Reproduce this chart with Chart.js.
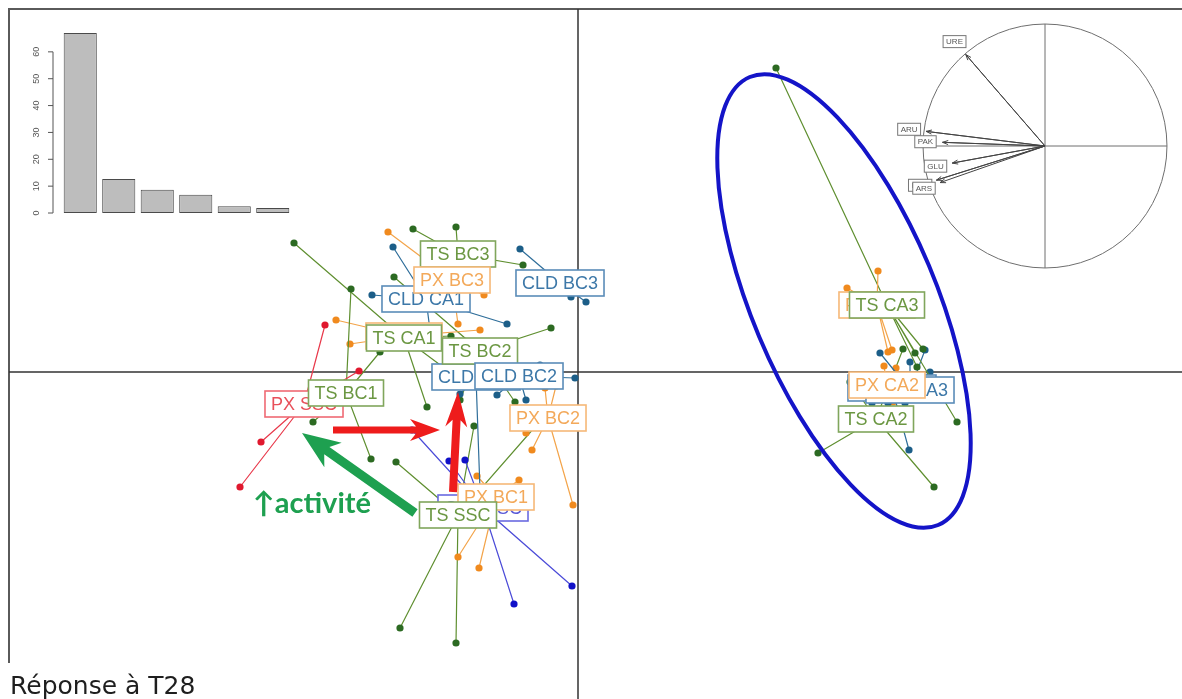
<!DOCTYPE html>
<html>
<head>
<meta charset="utf-8">
<script src="https://cdn.jsdelivr.net/npm/chart.js@4.4.1/dist/chart.umd.min.js"></script>
<style>
body{margin:0;background:#fff}
#wrap{position:relative;width:1182px;height:699px;overflow:hidden;background:#fff}
canvas{position:absolute}
</style>
</head>
<body>
<div id="wrap">
<canvas id="mainChart" width="1182" height="699" style="left:0;top:0"></canvas>
<canvas id="eigChart" width="300" height="230" style="left:0;top:0"></canvas>
<canvas id="circleChart" width="312" height="252" style="left:889px;top:20px"></canvas>
</div>
<script>
'use strict'
// groups (label order = drawing order)
let groupNames=['PX SSC','TS BC1','PX CA1','TS CA1','CLD CA1','TS BC3','PX BC3','CLD BC3','CLD BC1','TS BC2','CLD BC2','PX BC2','CLD SSC','PX BC1','TS SSC','PX CA3','TS CA3','CLD CA2','CLD CA3','PX CA2','TS CA2']
// group centres (F1, F2)
let centerX=[-2.74,-2.32,-1.74,-1.74,-1.52,-1.20,-1.26,-0.18,-1.02,-0.98,-0.59,-0.30,-0.95,-0.82,-1.20,2.99,3.09,3.14,3.32,3.09,2.98]
let centerY=[-0.32,-0.21,0.36,0.34,0.73,1.18,0.92,0.89,-0.05,0.21,-0.04,-0.46,-1.36,-1.25,-1.43,0.67,0.67,-0.16,-0.18,-0.13,-0.47]
// individuals of each group
let pointsX=[
 [-2.53,-2.19,-3.17,-3.38],
 [-2.27,-1.98,-2.65,-2.07],
 [-2.42,-2.28,-1.08,-0.98],
 [-2.84,-1.51,-1.27,-1.31],
 [-2.06,-1.85,-0.71,-1.48],
 [-1.22,-1.65,-0.55,-1.38],
 [-1.90,-0.94,-1.20,-1.00],
 [-0.58,-0.07,0.08],
 [-1.18,-0.98,-0.90,-1.08],
 [-0.27,-1.84,-0.63,-1.18],
 [-0.03,-0.81,-0.52,-0.38],
 [-0.05,-0.46,-0.33,-0.22,-0.52],
 [-0.64,-0.06,-1.29,-1.13,-1.66],
 [-1.20,-0.99,-1.01,-0.59],
 [-1.78,-1.22,-1.04,-1.82,-0.30],
 [3.00,2.69,3.14,3.10],
 [1.98,3.79,3.45,3.37,3.39],
 [3.31,2.94,3.10,3.27],
 [3.02,3.32,3.52,3.47],
 [3.06,3.18,3.00,3.15],
 [2.40,3.56,3.25,2.72]
]
let pointsY=[
 [0.47,0.01,-0.70,-1.15],
 [0.83,0.20,-0.50,-0.87],
 [0.52,0.28,0.27,0.42],
 [1.29,-0.35,0.36,0.02],
 [0.77,1.25,0.48,0.42],
 [1.45,1.43,1.07,0.77],
 [1.40,0.77,0.48,1.03],
 [1.23,0.75,0.70],
 [-0.22,-1.18,0.15,0.07],
 [0.44,0.95,-0.30,-0.28],
 [-0.06,-0.23,-0.28,0.07],
 [-1.33,-0.78,-0.16,-0.14,-0.61],
 [-2.32,-2.14,-0.89,-0.88,-0.58],
 [-1.85,-1.96,-1.04,-1.08],
 [-2.56,-2.71,-0.54,-0.90,-0.40],
 [1.01,0.84,0.22,0.20],
 [3.04,-0.50,0.23,0.19,0.05],
 [-0.78,-0.31,-0.31,-0.31],
 [0.19,0.10,0.00,0.22],
 [0.06,0.04,-0.28,-0.30],
 [-0.81,-1.15,0.23,-0.10]
]
// ellipse of the CA group
let ellipseCenter=[2.66,0.71]
let ellipseAxes=[2.43,0.92]
let ellipseAngle=-67.2

// eigenvalues (%)
let eigLabels=['1','2','3','4','5','6']
let eigValues=[67,12.7,8.7,6.8,2.5,1.9]
let eigTicks=[0,10,20,30,40,50,60]

// correlation circle
let varNames=['URE','ARU','PAK','GLU','PHO','ARS']
let varX=[-0.65,-0.975,-0.84,-0.76,-0.89,-0.86]
let varY=[0.75,0.12,0.03,-0.14,-0.28,-0.30]

let styles={
 red:{line:'#e8384a',point:'#e0182e',text:'#e8505a',box:'#ef6a74'},
 blue:{line:'#4b4bd8',point:'#1010c8',text:'#5a5ad8',box:'#6a6ae0'},
 TS:{line:'#5f8f30',point:'#2c6a22',text:'#6b9742',box:'#80a65c'},
 PX:{line:'#f3a44a',point:'#f08a1e',text:'#f3a95a',box:'#f6b878'},
 CLD:{line:'#2f6e9a',point:'#1c5e88',text:'#3d78a8',box:'#5a8cb8'}
}
function familyOf(name){
 if(name=='PX SSC') return 'red'
 if(name=='CLD SSC') return 'blue'
 return name.split(' ')[0]
}

let frameCorner=[-5.69,3.63]
let notes=[
 {from:[-2.45,-0.58],to:[-1.38,-0.58],color:'#ee1c1c',width:7,head:30,half:11},
 {from:[-1.25,-1.20],to:[-1.20,-0.20],color:'#ee1c1c',width:8,head:35,half:11},
 {from:[-1.63,-1.41],to:[-2.76,-0.61],color:'#1ea050',width:9,head:38,half:15}
]
let noteText={text:'↑activité',x:-3.25,y:-1.41,color:'#1ea050'}

function drawArrow(ctx,x0,y0,x1,y1,w,L,h){
 let dx=x1-x0, dy=y1-y0, len=Math.hypot(dx,dy)
 let ux=dx/len, uy=dy/len, nx=-uy, ny=ux
 let bx=x1-ux*L*0.8, by=y1-uy*L*0.8
 let wx=x1-ux*L, wy=y1-uy*L
 ctx.beginPath()
 ctx.moveTo(x0+nx*w/2,y0+ny*w/2)
 ctx.lineTo(bx+nx*w/2,by+ny*w/2)
 ctx.lineTo(wx+nx*h,wy+ny*h)
 ctx.lineTo(x1,y1)
 ctx.lineTo(wx-nx*h,wy-ny*h)
 ctx.lineTo(bx-nx*w/2,by-ny*w/2)
 ctx.lineTo(x0-nx*w/2,y0-ny*w/2)
 ctx.closePath()
 ctx.fill()
}

function drawLabel(ctx,text,px,py,st){
 ctx.font='18px "Liberation Sans", Arial, sans-serif'
 let w=ctx.measureText(text).width+12, h=26
 ctx.fillStyle='#fff'
 ctx.fillRect(px-w/2,py-h/2,w,h)
 ctx.strokeStyle=st.box
 ctx.lineWidth=1.6
 ctx.strokeRect(px-w/2,py-h/2,w,h)
 ctx.fillStyle=st.text
 ctx.textAlign='center'
 ctx.textBaseline='middle'
 ctx.fillText(text,px,py+1)
}

let mainPlugin={
 id:'mainDeco',
 beforeDatasetsDraw(chart){
  let {ctx,scales:{x,y}}=chart
  ctx.save()
  ctx.strokeStyle='#5a5a5a'
  ctx.lineWidth=2
  ctx.strokeRect(x.getPixelForValue(frameCorner[0]),y.getPixelForValue(frameCorner[1]),1400,900)
  ctx.strokeStyle='#333'
  ctx.lineWidth=1.5
  ctx.beginPath()
  ctx.moveTo(x.getPixelForValue(frameCorner[0]),y.getPixelForValue(0))
  ctx.lineTo(x.right,y.getPixelForValue(0))
  ctx.moveTo(x.getPixelForValue(0),y.getPixelForValue(frameCorner[1]))
  ctx.lineTo(x.getPixelForValue(0),y.bottom)
  ctx.stroke()
  ctx.restore()
 },
 afterDatasetsDraw(chart){
  let {ctx,scales:{x,y}}=chart
  ctx.save()
  // ellipse
  let ex=x.getPixelForValue(ellipseCenter[0]), ey=y.getPixelForValue(ellipseCenter[1])
  let ra=x.getPixelForValue(ellipseAxes[0])-x.getPixelForValue(0)
  let rb=x.getPixelForValue(ellipseAxes[1])-x.getPixelForValue(0)
  ctx.strokeStyle='#1414c8'
  ctx.lineWidth=4
  ctx.beginPath()
  ctx.ellipse(ex,ey,ra,rb,-ellipseAngle*Math.PI/180,0,2*Math.PI)
  ctx.stroke()
  // group labels
  for(let g=0;g<groupNames.length;g++){
   drawLabel(ctx,groupNames[g],x.getPixelForValue(centerX[g]),y.getPixelForValue(centerY[g]),styles[familyOf(groupNames[g])])
  }
  // annotations
  notes.forEach(n=>{
   ctx.fillStyle=n.color
   drawArrow(ctx,x.getPixelForValue(n.from[0]),y.getPixelForValue(n.from[1]),x.getPixelForValue(n.to[0]),y.getPixelForValue(n.to[1]),n.width,n.head,n.half)
  })
  ctx.fillStyle=noteText.color
  ctx.font='bold 29px Lato, "Open Sans", sans-serif'
  ctx.textAlign='left'
  ctx.textBaseline='alphabetic'
  ctx.fillText(noteText.text,x.getPixelForValue(noteText.x),y.getPixelForValue(noteText.y))
  // subtitle
  ctx.fillStyle='#fff'
  ctx.fillRect(0,663,210,40)
  ctx.fillStyle='#1e1e1e'
  ctx.font='25px "DejaVu Sans", sans-serif'
  ctx.fillText('Réponse à T28',10,694)
  ctx.restore()
 }
}

let starSets=groupNames.map((name,g)=>{
 let st=styles[familyOf(name)]
 let pts=[]
 for(let i=0;i<pointsX[g].length;i++){
  pts.push({x:centerX[g],y:centerY[g]})
  pts.push({x:pointsX[g][i],y:pointsY[g][i]})
 }
 return {
  data:pts,
  showLine:true,
  borderColor:st.line,
  borderWidth:1.2,
  pointRadius:c=>c.dataIndex%2?3.6:0,
  pointBackgroundColor:st.point,
  pointBorderWidth:0
 }
})

new Chart(document.getElementById('mainChart'),{
 type:'scatter',
 data:{datasets:starSets},
 options:{
  responsive:false,
  animation:false,
  events:[],
  layout:{padding:0,autoPadding:false},
  plugins:{legend:{display:false},tooltip:{enabled:false}},
  scales:{
   x:{type:'linear',min:-5.78,max:6.04,display:false},
   y:{type:'linear',min:-3.27,max:3.72,display:false}
  }
 },
 plugins:[mainPlugin]
})

// eigenvalue barplot
let eigAxis={
 id:'eigAxis',
 afterDatasetsDraw(chart){
  let {ctx,scales:{y}}=chart
  let ax=53
  ctx.save()
  ctx.strokeStyle='#555'
  ctx.lineWidth=1
  ctx.beginPath()
  ctx.moveTo(ax,y.getPixelForValue(eigTicks[0]))
  ctx.lineTo(ax,y.getPixelForValue(eigTicks[eigTicks.length-1]))
  eigTicks.forEach(t=>{
   ctx.moveTo(ax,y.getPixelForValue(t))
   ctx.lineTo(ax-5,y.getPixelForValue(t))
  })
  ctx.stroke()
  ctx.fillStyle='#555'
  ctx.font='9px "Liberation Sans", Arial, sans-serif'
  ctx.textAlign='center'
  ctx.textBaseline='middle'
  eigTicks.forEach(t=>{
   ctx.save()
   ctx.translate(37,y.getPixelForValue(t))
   ctx.rotate(-Math.PI/2)
   ctx.fillText(String(t),0,0)
   ctx.restore()
  })
  ctx.restore()
 }
}
new Chart(document.getElementById('eigChart'),{
 type:'bar',
 data:{labels:eigLabels,datasets:[{data:eigValues,backgroundColor:'#bdbdbd',borderColor:'#4a4a4a',borderWidth:1,borderSkipped:false,barPercentage:0.86,categoryPercentage:1}]},
 options:{
  responsive:false,
  animation:false,
  events:[],
  layout:{padding:{left:61,right:8,top:25,bottom:17},autoPadding:false},
  plugins:{legend:{display:false},tooltip:{enabled:false}},
  scales:{x:{display:false},y:{display:false,min:0,max:70}}
 },
 plugins:[eigAxis]
})

// correlation circle
let circleDeco={
 id:'circleDeco',
 beforeDatasetsDraw(chart){
  let {ctx,scales:{x,y}}=chart
  let cx=x.getPixelForValue(0), cy=y.getPixelForValue(0), r=x.getPixelForValue(1)-cx
  ctx.save()
  ctx.strokeStyle='#6e6e6e'
  ctx.lineWidth=1
  ctx.beginPath()
  ctx.arc(cx,cy,r,0,2*Math.PI)
  ctx.moveTo(cx-r,cy)
  ctx.lineTo(cx+r,cy)
  ctx.moveTo(cx,cy-r)
  ctx.lineTo(cx,cy+r)
  ctx.stroke()
  ctx.restore()
 },
 afterDatasetsDraw(chart){
  let {ctx,scales:{x,y}}=chart
  ctx.save()
  ctx.strokeStyle='#444'
  ctx.lineWidth=1
  for(let i=0;i<varNames.length;i++){
   let x0=x.getPixelForValue(0), y0=y.getPixelForValue(0)
   let x1=x.getPixelForValue(varX[i]), y1=y.getPixelForValue(varY[i])
   let a=Math.atan2(y1-y0,x1-x0)
   ctx.beginPath()
   ctx.moveTo(x1-6*Math.cos(a-0.35),y1-6*Math.sin(a-0.35))
   ctx.lineTo(x1,y1)
   ctx.lineTo(x1-6*Math.cos(a+0.35),y1-6*Math.sin(a+0.35))
   ctx.stroke()
  }
  ctx.font='8px "Liberation Sans", Arial, sans-serif'
  ctx.textAlign='center'
  ctx.textBaseline='middle'
  for(let i=0;i<varNames.length;i++){
   let len=Math.hypot(varX[i],varY[i])
   let k=1+0.14/len
   let lx=x.getPixelForValue(varX[i]*k), ly=y.getPixelForValue(varY[i]*k)
   let w=ctx.measureText(varNames[i]).width+6
   ctx.fillStyle='#fff'
   ctx.fillRect(lx-w/2,ly-6,w,12)
   ctx.strokeStyle='#777'
   ctx.strokeRect(lx-w/2,ly-6,w,12)
   ctx.fillStyle='#555'
   ctx.fillText(varNames[i],lx,ly+0.5)
  }
  ctx.restore()
 }
}
let arrowPts=[]
for(let i=0;i<varNames.length;i++){
 arrowPts.push({x:0,y:0})
 arrowPts.push({x:varX[i],y:varY[i]})
}
new Chart(document.getElementById('circleChart'),{
 type:'scatter',
 data:{datasets:[{data:arrowPts,showLine:true,borderColor:'#444',borderWidth:1,pointRadius:0}]},
 options:{
  responsive:false,
  animation:false,
  events:[],
  layout:{padding:0,autoPadding:false},
  plugins:{legend:{display:false},tooltip:{enabled:false}},
  scales:{x:{type:'linear',min:-1.279,max:1.279,display:false},y:{type:'linear',min:-1.033,max:1.033,display:false}}
 },
 plugins:[circleDeco]
})
</script>
</body>
</html>
